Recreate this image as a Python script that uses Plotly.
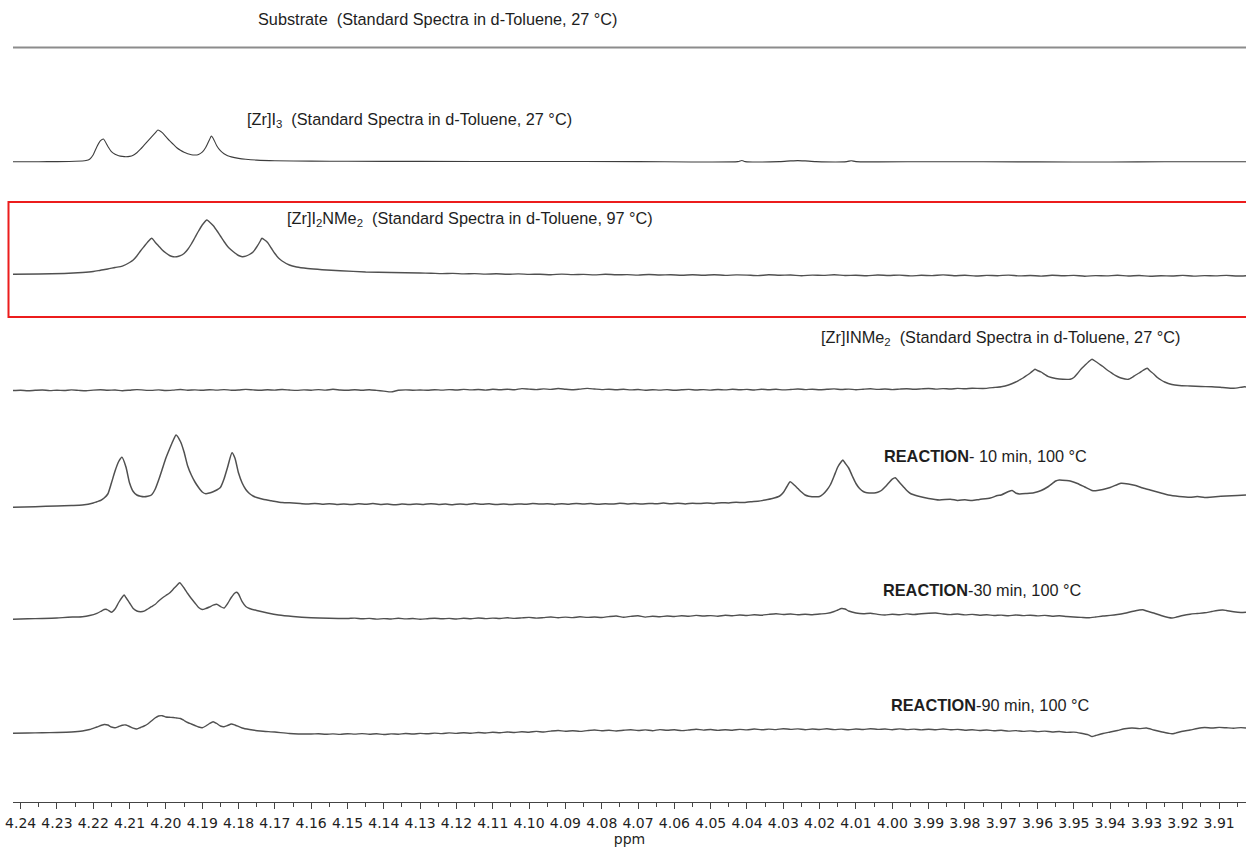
import plotly.graph_objects as go

# ---------------------------------------------------------------------------
# 1H NMR spectra (ppm, intensity above the trace's own baseline)
# ---------------------------------------------------------------------------
SUBSTRATE = [(4.2421, 0.0), (4.20, 0.0), (4.10, 0.0), (4.00, 0.0), (3.9026, 0.0)]

ZR_I3 = [
    (4.2421, 0.0), (4.235, 0.0), (4.230, 0.1), (4.225, 0.4), (4.222, 1.2), (4.221, 2.5),
    (4.220, 7.0), (4.219, 15.0), (4.218, 21.0), (4.2172, 22.7), (4.216, 15.5), (4.215, 10.0),
    (4.214, 7.5), (4.213, 6.0), (4.212, 5.3), (4.211, 5.0), (4.210, 5.3), (4.209, 6.5),
    (4.208, 9.0), (4.207, 12.5), (4.206, 16.5), (4.205, 20.5), (4.204, 24.5), (4.203, 28.5),
    (4.2022, 31.7), (4.201, 29.0), (4.200, 25.0), (4.199, 21.0), (4.198, 17.5), (4.197, 14.0),
    (4.196, 11.5), (4.195, 9.5), (4.194, 8.0), (4.193, 7.0), (4.192, 6.7), (4.191, 7.3),
    (4.190, 9.5), (4.189, 14.5), (4.188, 22.0), (4.1875, 25.7), (4.187, 23.5), (4.186, 16.0),
    (4.185, 11.0), (4.184, 8.0), (4.183, 6.0), (4.182, 4.8), (4.180, 3.3), (4.178, 2.4),
    (4.175, 1.6), (4.170, 1.0), (4.160, 0.6), (4.150, 0.4), (4.130, 0.3), (4.100, 0.2),
    (4.070, 0.1), (4.0425, 0.1), (4.0414, 1.2), (4.0405, 0.1), (4.031, 0.1), (4.028, 0.8),
    (4.026, 1.1), (4.024, 0.8), (4.021, 0.1), (4.0125, 0.1), (4.0113, 1.0), (4.010, 0.1),
    (3.990, 0.0), (3.960, -0.2), (3.940, -0.3), (3.925, -0.1), (3.9026, 0.0),
]

ZR_I2NME2 = [
    (4.2421, 0.2), (4.235, 0.5), (4.228, 1.0), (4.223, 2.0), (4.220, 3.0), (4.218, 4.3),
    (4.216, 5.5), (4.214, 7.0), (4.212, 8.3), (4.210, 12.0), (4.209, 14.5), (4.208, 18.5),
    (4.207, 23.5), (4.206, 28.0), (4.205, 32.5), (4.2039, 36.2), (4.203, 32.5), (4.202, 28.5),
    (4.201, 24.5), (4.200, 21.5), (4.199, 19.0), (4.198, 17.8), (4.197, 17.8), (4.196, 18.8),
    (4.195, 21.0), (4.194, 25.0), (4.193, 30.5), (4.192, 37.0), (4.191, 43.5), (4.190, 49.5),
    (4.1887, 54.5), (4.188, 52.5), (4.187, 49.0), (4.186, 44.0), (4.185, 38.5), (4.184, 33.0),
    (4.183, 28.0), (4.182, 24.5), (4.181, 21.5), (4.180, 19.0), (4.179, 17.8), (4.178, 18.3),
    (4.177, 20.0), (4.176, 22.5), (4.175, 27.5), (4.174, 33.5), (4.1736, 36.2), (4.173, 35.0),
    (4.172, 32.0), (4.171, 26.5), (4.170, 21.0), (4.169, 16.5), (4.168, 13.5), (4.166, 9.5),
    (4.164, 7.5), (4.161, 6.0), (4.157, 4.8), (4.152, 3.8), (4.145, 2.5), (4.138, 2.0),
    (4.130, 1.5), (4.127, 1.3), (4.124, 0.9), (4.121, 1.1), (4.118, 0.6), (4.115, 0.9),
    (4.112, 0.4), (4.109, 0.7), (4.106, 0.2), (4.103, 0.6), (4.100, 0.1), (4.097, 0.3),
    (4.094, -0.2), (4.091, 0.4), (4.088, -0.1), (4.085, 0.1), (4.082, -0.4), (4.079, 0.2),
    (4.076, -0.3), (4.073, -0.1), (4.070, -0.6), (4.067, 0.0), (4.064, -0.5), (4.061, -0.2),
    (4.058, -0.8), (4.055, -0.3), (4.052, -0.7), (4.049, -0.2), (4.046, -0.9), (4.043, -0.4),
    (4.040, -0.6), (4.037, -1.1), (4.034, -0.3), (4.031, -0.8), (4.028, -0.5), (4.025, -1.2),
    (4.022, -0.6), (4.019, -0.9), (4.016, -0.3), (4.013, -1.0), (4.010, -0.7), (4.007, -1.3),
    (4.004, -0.5), (4.001, -1.0), (3.998, -0.6), (3.995, -1.4), (3.992, -0.8), (3.989, -1.1),
    (3.986, -0.4), (3.983, -1.2), (3.980, -0.7), (3.977, -1.5), (3.974, -0.9), (3.971, -1.2),
    (3.968, -0.6), (3.965, -1.4), (3.962, -1.0), (3.959, -1.6), (3.956, -0.8), (3.953, -1.3),
    (3.950, -0.9), (3.947, -1.7), (3.944, -1.1), (3.941, -1.4), (3.938, -0.8), (3.935, -1.5),
    (3.932, -1.0), (3.929, -1.8), (3.926, -1.2), (3.923, -1.5), (3.920, -0.9), (3.917, -1.6),
    (3.914, -1.1), (3.911, -1.4), (3.908, -0.9), (3.905, -1.5), (3.9026, -1.2),
]

ZR_INME2 = [
    (4.2421, 0.0), (4.240, 0.3), (4.238, -0.2), (4.236, 0.2), (4.234, 0.5), (4.232, -0.1),
    (4.230, 0.3), (4.228, 0.0), (4.226, 0.6), (4.224, 0.1), (4.222, -0.3), (4.220, 0.4),
    (4.218, 0.8), (4.216, 0.2), (4.214, 0.5), (4.212, -0.2), (4.210, 0.3), (4.208, 0.9),
    (4.206, 0.4), (4.204, 0.1), (4.202, 0.6), (4.200, 0.0), (4.198, 0.4), (4.196, 1.0),
    (4.194, 0.3), (4.192, 0.6), (4.190, 0.2), (4.188, 0.8), (4.186, 0.4), (4.184, 0.9),
    (4.182, 0.3), (4.180, 0.5), (4.178, 1.1), (4.176, 0.6), (4.174, 0.2), (4.172, 0.7),
    (4.170, 0.4), (4.168, 1.0), (4.166, 0.5), (4.164, 0.1), (4.162, 0.6), (4.160, 0.3),
    (4.158, 0.9), (4.156, 0.4), (4.154, 1.2), (4.152, 0.5), (4.150, 0.2), (4.148, 0.8),
    (4.146, 0.3), (4.144, 0.7), (4.142, 0.1), (4.140, -0.6), (4.138, -1.4), (4.136, 0.2),
    (4.134, 0.6), (4.132, 0.3), (4.130, 0.5), (4.128, 0.2), (4.126, 0.8), (4.124, 0.4),
    (4.122, 0.9), (4.120, 0.5), (4.118, 1.1), (4.116, 0.6), (4.114, 1.0), (4.112, 0.4),
    (4.110, 1.2), (4.108, 0.7), (4.106, 1.3), (4.104, 0.8), (4.102, 1.9), (4.100, 1.4),
    (4.098, 0.9), (4.096, 1.6), (4.094, 1.1), (4.092, 2.0), (4.090, 1.3), (4.088, 0.8),
    (4.086, 1.4), (4.084, 2.1), (4.082, 1.5), (4.080, 0.9), (4.078, 1.3), (4.076, 0.7),
    (4.074, 1.2), (4.072, 0.6), (4.070, 1.0), (4.068, 0.3), (4.066, 0.8), (4.064, 0.4),
    (4.062, 0.9), (4.060, 0.2), (4.058, 0.7), (4.056, 1.1), (4.054, 0.5), (4.052, 0.9),
    (4.050, 0.4), (4.048, 1.0), (4.046, 0.6), (4.044, 1.2), (4.042, 0.7), (4.040, 1.1),
    (4.038, 0.5), (4.036, 1.3), (4.034, 0.8), (4.032, 1.2), (4.030, 0.6), (4.028, 1.0),
    (4.026, 1.5), (4.024, 0.9), (4.022, 1.3), (4.020, 0.7), (4.018, 1.2), (4.016, 1.6),
    (4.014, 1.0), (4.012, 1.4), (4.010, 0.8), (4.008, 1.3), (4.006, 1.7), (4.004, 1.1),
    (4.002, 1.5), (4.000, 0.9), (3.998, 1.4), (3.996, 1.8), (3.994, 1.2), (3.992, 1.6),
    (3.990, 2.0), (3.988, 1.4), (3.986, 1.9), (3.984, 1.5), (3.982, 2.1), (3.980, 1.7),
    (3.978, 2.2), (3.975, 2.0), (3.972, 3.0), (3.970, 3.8), (3.968, 5.5), (3.966, 8.5),
    (3.965, 10.5), (3.964, 12.5), (3.963, 15.0), (3.962, 17.5), (3.961, 20.5), (3.9607, 21.2),
    (3.960, 20.0), (3.959, 18.5), (3.958, 16.0), (3.957, 13.8), (3.955, 12.0), (3.953, 11.2),
    (3.951, 11.3), (3.950, 13.0), (3.949, 17.0), (3.948, 21.5), (3.947, 25.0), (3.946, 28.5),
    (3.945, 31.2), (3.944, 29.0), (3.943, 26.5), (3.942, 24.0), (3.941, 21.0), (3.940, 18.5),
    (3.939, 16.0), (3.938, 14.0), (3.937, 12.5), (3.935, 11.2), (3.934, 13.0), (3.933, 15.5),
    (3.932, 17.5), (3.931, 20.0), (3.9298, 22.2), (3.929, 19.5), (3.928, 16.5), (3.927, 13.0),
    (3.926, 10.5), (3.925, 8.5), (3.923, 6.0), (3.921, 5.0), (3.918, 4.5), (3.915, 4.0),
    (3.912, 3.8), (3.909, 3.0), (3.906, 2.2), (3.903, 3.8), (3.9026, 3.5),
]

RXN_10 = [
    (4.2421, -0.3), (4.236, 0.3), (4.230, 1.0), (4.226, 1.5), (4.223, 2.0), (4.220, 4.0),
    (4.219, 5.3), (4.218, 6.5), (4.217, 9.0), (4.216, 13.0), (4.215, 24.0), (4.214, 36.0),
    (4.213, 45.5), (4.2121, 49.7), (4.211, 40.0), (4.210, 24.0), (4.209, 15.5), (4.208, 12.0),
    (4.207, 10.8), (4.206, 10.3), (4.205, 10.8), (4.204, 12.0), (4.203, 17.5), (4.202, 27.0),
    (4.201, 38.0), (4.200, 49.0), (4.199, 58.0), (4.198, 66.5), (4.1972, 72.0), (4.196, 65.5),
    (4.195, 55.0), (4.194, 41.0), (4.193, 32.0), (4.192, 25.0), (4.191, 19.5), (4.190, 15.0),
    (4.189, 13.2), (4.188, 14.0), (4.187, 15.3), (4.186, 17.0), (4.185, 19.5), (4.184, 28.0),
    (4.183, 40.0), (4.1818, 54.3), (4.181, 49.0), (4.180, 34.0), (4.179, 24.0), (4.178, 17.5),
    (4.177, 13.5), (4.176, 11.0), (4.175, 9.5), (4.173, 7.5), (4.171, 6.3), (4.168, 4.5),
    (4.165, 4.0), (4.163, 3.5), (4.161, 3.0), (4.159, 3.6), (4.157, 2.8), (4.155, 3.3),
    (4.153, 2.6), (4.151, 3.1), (4.149, 2.4), (4.147, 3.2), (4.145, 2.7), (4.143, 3.4),
    (4.141, 2.5), (4.139, 3.0), (4.137, 2.2), (4.135, 2.9), (4.133, 2.4), (4.131, 3.1),
    (4.129, 2.6), (4.127, 3.3), (4.125, 2.5), (4.123, 2.9), (4.121, 2.3), (4.119, 3.0),
    (4.117, 2.6), (4.115, 3.4), (4.113, 2.8), (4.111, 3.2), (4.109, 2.5), (4.107, 3.0),
    (4.105, 2.4), (4.103, 3.1), (4.101, 2.7), (4.099, 3.5), (4.097, 2.9), (4.095, 3.3),
    (4.093, 2.6), (4.091, 3.2), (4.089, 2.8), (4.087, 3.6), (4.085, 3.0), (4.083, 3.4),
    (4.081, 2.7), (4.079, 3.3), (4.077, 2.9), (4.075, 3.7), (4.073, 3.1), (4.071, 3.5),
    (4.069, 2.9), (4.067, 3.6), (4.065, 3.2), (4.063, 3.9), (4.061, 3.3), (4.059, 3.7),
    (4.057, 3.1), (4.055, 3.8), (4.053, 3.4), (4.051, 4.1), (4.049, 3.6), (4.047, 4.3),
    (4.045, 4.0), (4.043, 4.8), (4.041, 4.4), (4.039, 5.3), (4.037, 5.8), (4.035, 7.0),
    (4.033, 8.5), (4.031, 11.0), (4.030, 14.5), (4.029, 20.5), (4.0281, 25.3), (4.027, 22.0),
    (4.026, 18.5), (4.025, 15.0), (4.024, 12.0), (4.023, 10.8), (4.021, 10.2), (4.020, 10.5),
    (4.019, 13.0), (4.018, 17.0), (4.017, 22.5), (4.016, 31.0), (4.015, 40.0), (4.014, 45.5),
    (4.0136, 47.0), (4.013, 44.0), (4.012, 39.0), (4.011, 31.0), (4.010, 23.5), (4.009, 18.5),
    (4.008, 15.5), (4.007, 14.3), (4.005, 14.0), (4.004, 14.8), (4.003, 16.5), (4.002, 20.0),
    (4.001, 24.0), (4.000, 27.8), (3.9992, 29.3), (3.998, 24.5), (3.997, 20.5), (3.996, 16.5),
    (3.995, 13.5), (3.993, 11.0), (3.990, 8.5), (3.987, 7.0), (3.984, 7.8), (3.982, 6.6),
    (3.980, 7.2), (3.978, 6.5), (3.976, 7.6), (3.973, 9.0), (3.971, 11.5), (3.970, 12.0),
    (3.968, 15.5), (3.967, 16.5), (3.966, 14.0), (3.965, 13.0), (3.963, 13.5), (3.961, 14.3),
    (3.959, 16.5), (3.957, 20.5), (3.955, 26.0), (3.954, 27.0), (3.952, 26.5), (3.951, 26.0),
    (3.949, 23.5), (3.947, 20.0), (3.945, 16.5), (3.944, 16.3), (3.942, 17.5), (3.940, 19.5),
    (3.938, 22.5), (3.937, 23.7), (3.935, 23.0), (3.933, 21.5), (3.931, 19.0), (3.929, 17.0),
    (3.926, 14.0), (3.924, 12.0), (3.921, 10.5), (3.918, 9.7), (3.916, 10.4), (3.914, 9.6),
    (3.911, 10.3), (3.908, 11.0), (3.905, 11.5), (3.9026, 12.0),
]

RXN_30 = [
    (4.2421, -0.3), (4.238, 0.2), (4.234, 0.5), (4.230, 1.0), (4.227, 1.8), (4.225, 2.0),
    (4.223, 2.3), (4.221, 3.5), (4.219, 5.7), (4.218, 7.5), (4.217, 9.5), (4.2165, 9.8),
    (4.216, 9.0), (4.215, 6.8), (4.214, 10.0), (4.213, 16.5), (4.212, 22.0), (4.2115, 24.0),
    (4.211, 21.5), (4.210, 16.0), (4.209, 10.5), (4.208, 8.0), (4.207, 7.3), (4.206, 7.8),
    (4.205, 10.0), (4.204, 12.3), (4.203, 14.5), (4.202, 18.0), (4.201, 21.0), (4.200, 23.5),
    (4.199, 26.0), (4.198, 29.7), (4.197, 33.5), (4.1962, 36.3), (4.195, 31.0), (4.194, 25.5),
    (4.193, 20.5), (4.192, 16.0), (4.191, 11.5), (4.190, 9.5), (4.189, 10.5), (4.188, 12.0),
    (4.187, 13.8), (4.186, 14.7), (4.185, 12.5), (4.184, 11.0), (4.183, 15.5), (4.182, 21.5),
    (4.181, 26.0), (4.1805, 26.7), (4.180, 25.0), (4.179, 17.3), (4.178, 12.5), (4.177, 10.5),
    (4.175, 8.5), (4.172, 6.0), (4.169, 4.0), (4.165, 2.5), (4.160, 1.3), (4.155, 0.7),
    (4.150, 0.5), (4.148, 0.9), (4.146, 0.2), (4.144, 0.6), (4.142, -0.1), (4.140, 0.4),
    (4.138, 0.0), (4.136, 0.7), (4.134, 0.1), (4.132, 0.5), (4.130, -0.2), (4.128, 0.3),
    (4.126, 0.8), (4.124, 0.2), (4.122, 0.6), (4.120, 0.0), (4.118, 0.7), (4.116, 0.3),
    (4.114, 1.0), (4.112, 0.4), (4.110, 0.9), (4.108, 0.5), (4.106, 1.2), (4.104, 0.6),
    (4.102, 1.1), (4.100, 1.6), (4.098, 0.9), (4.096, 1.4), (4.094, 2.0), (4.092, 1.3),
    (4.090, 1.9), (4.088, 1.4), (4.086, 2.2), (4.084, 1.6), (4.082, 2.0), (4.080, 1.5),
    (4.078, 2.4), (4.076, 3.0), (4.074, 1.8), (4.072, 2.6), (4.070, 3.2), (4.068, 1.9),
    (4.066, 2.8), (4.064, 2.2), (4.062, 3.0), (4.060, 2.5), (4.058, 3.3), (4.056, 2.7),
    (4.054, 3.6), (4.052, 3.0), (4.050, 3.4), (4.048, 2.8), (4.046, 3.7), (4.044, 3.2),
    (4.042, 4.0), (4.040, 3.5), (4.038, 4.3), (4.036, 3.8), (4.034, 4.6), (4.032, 5.2),
    (4.030, 4.5), (4.028, 5.0), (4.026, 4.2), (4.024, 4.8), (4.022, 4.3), (4.020, 5.0),
    (4.018, 5.6), (4.016, 7.5), (4.015, 9.0), (4.014, 10.5), (4.013, 10.0), (4.012, 8.0),
    (4.010, 6.0), (4.008, 5.2), (4.006, 5.8), (4.004, 4.6), (4.002, 4.0), (4.000, 4.8),
    (3.998, 4.2), (3.996, 5.1), (3.994, 4.5), (3.992, 5.3), (3.990, 5.8), (3.988, 6.0),
    (3.986, 5.0), (3.984, 4.4), (3.982, 5.0), (3.980, 4.1), (3.978, 4.6), (3.976, 3.8),
    (3.974, 4.3), (3.972, 3.5), (3.970, 3.9), (3.968, 3.2), (3.966, 4.0), (3.964, 3.4),
    (3.962, 3.8), (3.960, 3.1), (3.958, 3.6), (3.956, 2.8), (3.954, 3.2), (3.952, 2.5),
    (3.950, 2.0), (3.948, 1.6), (3.946, 1.2), (3.944, 2.0), (3.942, 3.0), (3.940, 3.6),
    (3.938, 4.5), (3.936, 5.8), (3.934, 7.5), (3.932, 9.0), (3.931, 9.3), (3.930, 8.0),
    (3.928, 6.0), (3.926, 3.5), (3.924, 1.5), (3.923, 1.0), (3.922, 1.6), (3.920, 3.5),
    (3.918, 4.8), (3.916, 5.5), (3.914, 6.2), (3.912, 7.5), (3.910, 8.8), (3.909, 9.0),
    (3.908, 8.5), (3.906, 7.2), (3.904, 6.5), (3.9026, 6.8),
]

RXN_90 = [
    (4.2421, 0.7), (4.238, 1.0), (4.234, 1.2), (4.230, 1.5), (4.226, 2.0), (4.223, 3.0),
    (4.221, 4.5), (4.219, 7.0), (4.217, 9.5), (4.216, 9.0), (4.215, 7.0), (4.214, 6.3),
    (4.213, 7.5), (4.212, 8.8), (4.211, 9.0), (4.210, 7.5), (4.209, 5.8), (4.208, 5.0),
    (4.207, 6.5), (4.206, 8.0), (4.205, 10.0), (4.204, 13.0), (4.203, 16.0), (4.202, 18.0),
    (4.201, 18.3), (4.200, 17.0), (4.199, 16.7), (4.198, 16.5), (4.197, 16.0), (4.196, 15.5),
    (4.195, 13.5), (4.194, 11.5), (4.193, 10.0), (4.192, 8.5), (4.191, 7.0), (4.190, 6.3),
    (4.189, 8.0), (4.188, 10.5), (4.187, 12.3), (4.186, 10.5), (4.185, 8.0), (4.184, 7.3),
    (4.183, 8.5), (4.182, 10.0), (4.181, 9.0), (4.179, 6.0), (4.177, 4.5), (4.174, 3.0),
    (4.170, 2.0), (4.166, 0.5), (4.160, 0.0), (4.158, 0.2), (4.156, -0.3), (4.154, 0.1),
    (4.152, -0.4), (4.150, 0.3), (4.148, -0.1), (4.146, 0.4), (4.144, -0.2), (4.142, 0.2),
    (4.140, -0.5), (4.138, 0.1), (4.136, -0.2), (4.134, 0.5), (4.132, 0.0), (4.130, 0.6),
    (4.128, 0.2), (4.126, 0.9), (4.124, 0.4), (4.122, 1.1), (4.120, 0.6), (4.118, 1.3),
    (4.116, 0.8), (4.114, 1.5), (4.112, 1.0), (4.110, 1.8), (4.108, 1.2), (4.106, 2.0),
    (4.104, 1.5), (4.102, 2.3), (4.100, 1.8), (4.098, 2.6), (4.096, 2.0), (4.094, 2.9),
    (4.092, 3.5), (4.090, 2.7), (4.088, 3.3), (4.086, 2.6), (4.084, 3.4), (4.082, 4.0),
    (4.080, 3.2), (4.078, 3.8), (4.076, 3.0), (4.074, 3.7), (4.072, 4.3), (4.070, 3.5),
    (4.068, 4.1), (4.066, 3.3), (4.064, 4.4), (4.062, 3.7), (4.060, 4.2), (4.058, 3.4),
    (4.056, 4.0), (4.054, 4.8), (4.052, 3.9), (4.050, 4.5), (4.048, 3.6), (4.046, 4.3),
    (4.044, 3.8), (4.042, 4.6), (4.040, 4.1), (4.038, 5.0), (4.036, 4.2), (4.034, 4.9),
    (4.032, 4.4), (4.030, 5.3), (4.028, 4.6), (4.026, 5.1), (4.024, 4.3), (4.022, 5.0),
    (4.020, 4.5), (4.018, 5.2), (4.016, 4.4), (4.014, 4.9), (4.012, 4.2), (4.010, 5.0),
    (4.008, 4.5), (4.006, 5.3), (4.004, 4.6), (4.002, 5.0), (4.000, 4.3), (3.998, 5.1),
    (3.996, 4.4), (3.994, 4.9), (3.992, 4.1), (3.990, 4.8), (3.988, 4.3), (3.986, 5.0),
    (3.984, 4.2), (3.982, 4.6), (3.980, 3.8), (3.978, 4.3), (3.976, 3.5), (3.974, 4.0),
    (3.972, 3.2), (3.970, 3.7), (3.968, 2.9), (3.966, 3.4), (3.964, 2.6), (3.962, 3.1),
    (3.960, 2.4), (3.958, 2.9), (3.956, 2.0), (3.954, 2.5), (3.952, 1.6), (3.950, 1.9),
    (3.948, 0.8), (3.946, -0.8), (3.945, -2.5), (3.944, -1.5), (3.942, 0.5), (3.940, 2.0),
    (3.938, 3.5), (3.936, 5.2), (3.934, 6.0), (3.932, 5.4), (3.930, 6.0), (3.928, 4.0),
    (3.926, 2.2), (3.924, 0.8), (3.923, 0.2), (3.922, 0.9), (3.920, 2.8), (3.918, 4.0),
    (3.916, 5.5), (3.914, 6.5), (3.912, 6.0), (3.910, 6.6), (3.908, 6.2), (3.906, 5.8),
    (3.904, 6.4), (3.9026, 6.0),
]

SPECTRA = [SUBSTRATE, ZR_I3, ZR_I2NME2, ZR_INME2, RXN_10, RXN_30, RXN_90]

LABELS = [
    "Substrate  (Standard Spectra in d-Toluene, 27 °C)",
    "[Zr]I<sub>3</sub>  (Standard Spectra in d-Toluene, 27 °C)",
    "[Zr]I<sub>2</sub>NMe<sub>2</sub>  (Standard Spectra in d-Toluene, 97 °C)",
    "[Zr]INMe<sub>2</sub>  (Standard Spectra in d-Toluene, 27 °C)",
    "<b>REACTION</b>- 10 min, 100 °C",
    "<b>REACTION</b>-30 min, 100 °C",
    "<b>REACTION</b>-90 min, 100 °C",
]

# ---------------------------------------------------------------------------
# page geometry (pixels) and stacking
# ---------------------------------------------------------------------------
W, H = 1246, 848
PLOT_L, PLOT_B = 13, 46
PLOT_H = H - PLOT_B
X_LEFT, X_RIGHT = 4.2421, 3.9026

BASELINE_PX = [47.5, 161.7, 274.5, 390.5, 507.0, 619.0, 734.0]
LABEL_PX = [(256, 19), (245, 120), (285, 219), (819, 338), (882, 456), (881, 590), (889, 705)]
LINE_STYLE = [("#8c8c8c", 2.2), ("#3d3d3d", 1.1), ("#505050", 1.4), ("#505050", 1.4),
              ("#505050", 1.5), ("#505050", 1.4), ("#505050", 1.4)]


def ppm_at(px):
    return X_LEFT - (px - PLOT_L) * (X_LEFT - X_RIGHT) / (W - PLOT_L)


def y_at(py):
    return PLOT_H - py


fig = go.Figure()

for spec, base, (color, width) in zip(SPECTRA, BASELINE_PX, LINE_STYLE):
    ppm = [p for p, _ in spec]
    inten = [v for _, v in spec]
    offset = y_at(base)
    fig.add_trace(go.Scatter(
        x=ppm, y=[offset + v for v in inten], mode="lines",
        line=dict(color=color, width=width, shape="spline", smoothing=0.6),
        hoverinfo="skip", showlegend=False,
    ))

for text, (px, py) in zip(LABELS, LABEL_PX):
    fig.add_annotation(
        x=ppm_at(px), y=y_at(py), xref="x", yref="y", text=text,
        showarrow=False, xanchor="left", yanchor="middle",
        font=dict(family="Liberation Sans, Arial, sans-serif", size=16.3, color="#1e1e1e"),
    )

# red frame around the 97 °C reference spectrum
top_px, bot_px = 202, 317
fig.add_shape(
    type="rect", xref="paper", yref="paper",
    x0=(8.5 - PLOT_L) / (W - PLOT_L), x1=1.02,
    y0=(PLOT_H - bot_px) / PLOT_H, y1=(PLOT_H - top_px) / PLOT_H,
    line=dict(color="#ec1c1c", width=2), fillcolor="rgba(0,0,0,0)",
)

axis_font = dict(family="DejaVu Sans, Verdana, sans-serif", size=14, color="#1e1e1e")
fig.update_layout(
    width=W, height=H,
    margin=dict(l=PLOT_L, r=0, t=0, b=PLOT_B, pad=0),
    paper_bgcolor="white", plot_bgcolor="white",
    xaxis=dict(
        range=[X_LEFT, X_RIGHT], tick0=4.0, dtick=0.01, tickformat=".2f",
        ticks="outside", ticklen=6, tickwidth=1, tickcolor="#444444",
        showline=True, linecolor="#444444", linewidth=1, ticklabelstandoff=2,
        showgrid=False, zeroline=False, tickfont=axis_font,
        minor=dict(dtick=0.005, tick0=4.0, ticks="outside", ticklen=4, tickcolor="#444444", showgrid=False),
        title=dict(text="ppm", font=axis_font, standoff=0),
    ),
    yaxis=dict(range=[0, PLOT_H], visible=False, showgrid=False, zeroline=False),
)

fig.write_html("out.html")
